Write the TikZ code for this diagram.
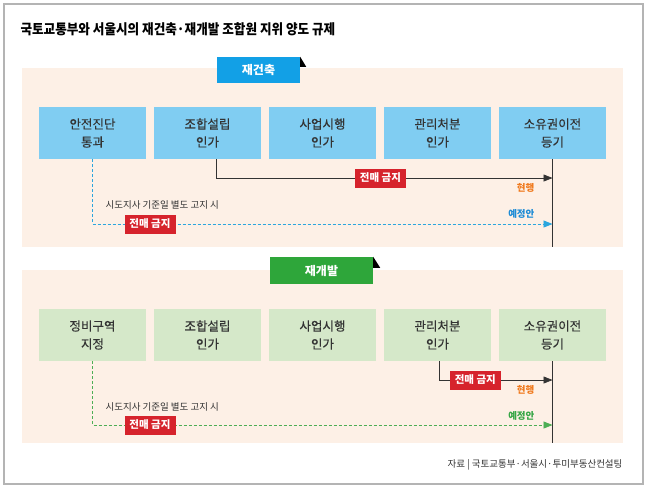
\documentclass[tikz,border=0pt]{standalone}
\usepackage{fontspec}
\setmainfont{Noto Sans CJK KR}
\newfontfamily\titlefont{Noto Sans CJK KR}[FakeStretch=0.9]
\newfontfamily\stagefont{Noto Sans CJK KR}[FakeBold=0.35]
\usetikzlibrary{positioning, arrows.meta}

\definecolor{framegray}{HTML}{B4B4B4}
\definecolor{peach}{HTML}{FDF0E6}
\definecolor{tagblue}{HTML}{12A0E6}
\definecolor{boxblue}{HTML}{80CDF2}
\definecolor{taggreen}{HTML}{2EA63A}
\definecolor{boxgreen}{HTML}{D5E8C9}
\definecolor{banred}{HTML}{D6232C}
\definecolor{nowgold}{HTML}{F07A1E}
\definecolor{planblue}{HTML}{1E8CD6}
\definecolor{plangreen}{HTML}{36A646}
\definecolor{dashblue}{HTML}{2BA6DE}
\definecolor{dashgreen}{HTML}{4DAE55}
\definecolor{inkgray}{HTML}{333333}

\begin{document}
\begin{tikzpicture}[x=1pt,y=-1pt,node distance=115pt,on grid,
    stage/.style={fill=#1, minimum width=107pt, minimum height=52pt, align=center,
        text=inkgray, font=\stagefont\fontsize{12.5}{18}\selectfont},
    tag/.style={fill=#1, minimum height=26pt, text=white, font=\bfseries\fontsize{12}{14}\selectfont},
    ban/.style={fill=banred, minimum width=51pt, minimum height=19pt, inner sep=0pt,
        text=white, font=\bfseries\fontsize{10.5}{12}\selectfont},
    note/.style={text=inkgray, font=\fontsize{9.5}{11}\selectfont},
    flag/.style={font=\bfseries\fontsize{9.5}{11}\selectfont},
    now/.style={draw=inkgray, line width=0.7pt},
    plan/.style={dashed, dash pattern=on 3pt off 2pt, line width=0.8pt}] 
        \useasboundingbox (0,0) rectangle (650,491);
        \draw[framegray, line width=1.2pt] (4,4) rectangle (643,484);
        \node[anchor=west, text=black, font=\titlefont\bfseries\fontsize{14}{16}\selectfont] (title) at (17,29)
            {국토교통부와 서울시의 재건축·재개발 조합원 지위 양도 규제};

        % 재건축
        \fill[peach] (22,68) rectangle (623,247);
        \node[tag=tagblue, minimum width=83pt] (rtag) at (258.5,70) {재건축};
        \fill (rtag.north east) -- ++(6,10) -- ++(-6,0) -- cycle;
        \node[stage=boxblue] (r1) at (92.5,133) {안전진단\\통과};
        \node[stage=boxblue] (r2) [right=of r1] {조합설립\\인가};
        \node[stage=boxblue] (r3) [right=of r2] {사업시행\\인가};
        \node[stage=boxblue] (r4) [right=of r3] {관리처분\\인가};
        \node[stage=boxblue] (r5) [right=of r4] {소유권이전\\등기};
        \coordinate (rnow) at (552.5,178);
        \coordinate (rplan) at (552.5,224);
        \coordinate (rend) at (552.5,247);
        \draw[now] (r5.south) -- (rend);
        \draw[now, -{Triangle[length=9pt,width=7pt]}] ([xshift=9pt]r2.south) |- (rnow)
            node[ban, pos=0.744] (rban) {전매 금지};
        \draw[plan, dashblue, -{Triangle[length=9pt,width=7pt]}] (r1.south) |- (rplan)
            node[ban, pos=0.5625] (rban2) {전매 금지};
        \node[note, anchor=west] (rnote) at (102,205) {시도지사 기준일 별도 고지 시};
        \node[flag, nowgold, anchor=east] (rnowtxt) at (538,188) {현행};
        \node[flag, planblue, anchor=east] (rplantxt) at (538,214) {예정안};

        % 재개발
        \fill[peach] (22,270) rectangle (623,443);
        \node[tag=taggreen, minimum width=103pt, minimum height=27pt] (gtag) at (321.5,270.5) {재개발};
        \fill (gtag.north east) -- ++(7,11) -- ++(-7,0) -- cycle;
        \node[stage=boxgreen] (g1) at (92.5,335) {정비구역\\지정};
        \node[stage=boxgreen] (g2) [right=of g1] {조합설립\\인가};
        \node[stage=boxgreen] (g3) [right=of g2] {사업시행\\인가};
        \node[stage=boxgreen] (g4) [right=of g3] {관리처분\\인가};
        \node[stage=boxgreen] (g5) [right=of g4] {소유권이전\\등기};
        \coordinate (gnow) at (552.5,380);
        \coordinate (gplan) at (552.5,425);
        \coordinate (gend) at (552.5,443);
        \draw[now] (g5.south) -- (gend);
        \draw[now, -{Triangle[length=9pt,width=7pt]}] ([xshift=1.5pt]g4.south) |- (gnow)
            node[ban, pos=0.66] (gban) {전매 금지};
        \draw[plan, dashgreen, -{Triangle[length=9pt,width=7pt]}] (g1.south) |- (gplan)
            node[ban, pos=0.5625] (gban2) {전매 금지};
        \node[note, anchor=west] (gnote) at (102,407) {시도지사 기준일 별도 고지 시};
        \node[flag, nowgold, anchor=east] (gnowtxt) at (538,390) {현행};
        \node[flag, plangreen, anchor=east] (gplantxt) at (538,416) {예정안};

        \node[note, anchor=east] (source) at (626,465)
            {자료 | 국토교통부·서울시·투미부동산컨설팅};
\end{tikzpicture}
\end{document}
